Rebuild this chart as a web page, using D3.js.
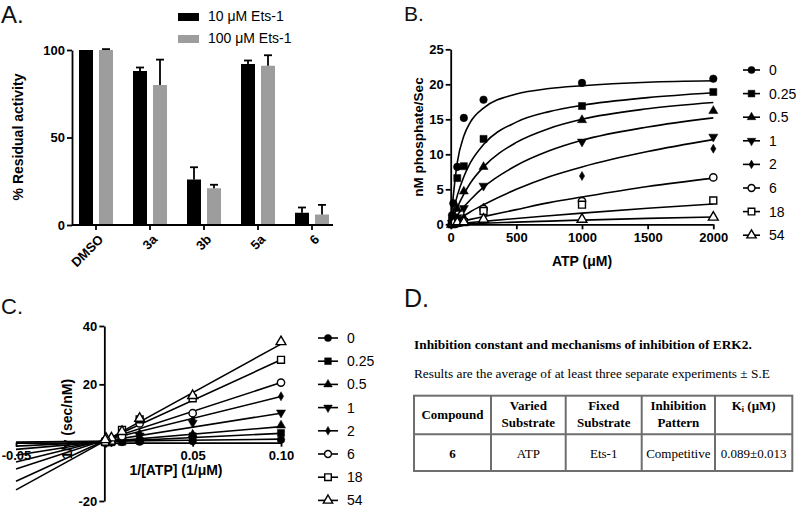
<!DOCTYPE html>
<html><head><meta charset="utf-8">
<script src="https://cdn.jsdelivr.net/npm/d3@7"></script>
<style>body{margin:0;background:#fff} svg{display:block}</style>
</head><body>
<svg id="chart" width="800" height="509"></svg>
<script>
// ---------- Panel A data ----------
const compounds = ["DMSO", "3a", "3b", "5a", "6"];
const ets10 = [100, 88, 26, 92, 7];
const ets10Err = [0, 2, 7, 2, 3];
const ets100 = [100, 80, 21, 91, 6];
const ets100Err = [0.5, 14.5, 2, 6, 5.5];
const barSeriesNames = ["10 μM Ets-1", "100 μM Ets-1"];
const yTicksA = [0, 50, 100];

// ---------- Panel B data ----------
const inhibitorConc = ["0", "0.25", "0.5", "1", "2", "6", "18", "54"];
const atpConc = [10, 20, 50, 100, 250, 1000, 2000];
const rate0   = [1.3, 3.0, 8.2, 15.2, 17.8, 20.2, 20.8];
const rate025 = [0.5, 1.0, 6.6, 8.3, 12.2, 16.9, 18.9];
const rate05  = [0.3, 0.8, 2.2, 4.7, 8.2, 14.9, 16.2];
const rate1   = [0.2, 0.5, 1.0, 2.3, 5.5, 11.8, 12.5];
const rate2   = [0.1, 0.3, 0.6, 1.0, 2.4, 6.9, 10.8];
const rate6   = [0.05, 0.2, 0.4, 0.5, 2.2, 3.3, 6.7];
const rate18  = [0.04, 0.1, 0.2, 0.3, 1.9, 2.8, 3.4];
const rate54  = [0.03, 0.1, 0.2, 0.3, 0.7, 0.7, 1.0];
const fitAtp = [0, 25, 50, 100, 150, 250, 500, 750, 1000, 1500, 2000];
const fit0   = [0, 5.0, 8.8, 12.6, 14.6, 16.6, 18.6, 19.4, 19.8, 20.3, 20.5];
const fit025 = [0, 2.3, 4.1, 6.8, 8.8, 11.4, 14.6, 16.1, 17.0, 18.1, 18.8];
const fit05  = [0, 1.3, 2.4, 4.3, 5.9, 8.2, 11.7, 13.7, 15.0, 16.5, 17.4];
const fit1   = [0, 0.7, 1.3, 2.5, 3.5, 5.3, 8.4, 10.5, 12.0, 13.9, 15.2];
const fit2   = [0, 0.3, 0.6, 1.2, 1.8, 2.8, 5.0, 6.8, 8.2, 10.4, 12.1];
const fit6   = [0, 0.1, 0.2, 0.5, 0.7, 1.1, 2.1, 3.1, 3.9, 5.4, 6.6];
const fit18  = [0, 0.04, 0.08, 0.17, 0.25, 0.42, 0.83, 1.22, 1.6, 2.3, 2.9];
const fit54  = [0, 0.02, 0.03, 0.06, 0.09, 0.16, 0.31, 0.46, 0.6, 0.85, 1.05];
const xTicksB = [0, 500, 1000, 1500, 2000];
const yTicksB = [0, 5, 10, 15, 20, 25];

// ---------- Panel C data ----------
const invAtp = [0.1, 0.05, 0.02, 0.01, 0.004, 0.001, 0.0005];
const inv0   = [1.0, 0.5, 0.3, 0.2, 0.1, 0.05, 0.05];
const inv025 = [3.3, 2.2, 0.7, 0.3, 0.15, 0.08, 0.06];
const inv05  = [5.9, 2.8, 1.0, 0.4, 0.2, 0.08, 0.06];
const inv1   = [10.3, 6.8, 2.4, 0.8, 0.3, 0.1, 0.08];
const inv2   = [15.9, 7.8, 3.2, 1.3, 0.4, 0.15, 0.1];
const inv6   = [20.6, 10.1, 6.6, 2.2, 0.6, 0.3, 0.15];
const inv18  = [28.4, 15.2, 8.0, 4.4, 0.7, 0.4, 0.3];
const inv54  = [34.6, 16.1, 8.3, 3.8, 1.6, 1.4, 1.0];
const lbFitX = [-0.05, 0.1];
const lbFitLeft  = [0.2, -1.2, -2.3, -4.3, -6.6, -9.0, -13.2, -16.2];
const lbFitRight = [1.2, 3.2, 5.5, 10.1, 15.8, 20.6, 28.4, 33.8];
const xTicksC = [-0.05, 0.05, 0.10];
const yTicksC = [-20, 20, 40];

// ---------- Panel D data ----------
const tableTitle = "Inhibition constant and mechanisms of inhibition of ERK2.";
const tableNote = "Results are the average of at least three separate experiments ± S.E";
const tableHeader = [["Compound"], ["Varied", "Substrate"], ["Fixed", "Substrate"], ["Inhibition", "Pattern"], ["Ki"]];
const tableRow = ["6", "ATP", "Ets-1", "Competitive", "0.089±0.013"];

// ---------- helpers ----------
const svg = d3.select("#chart");
const SANS = "'Liberation Sans', Arial, sans-serif";
const SERIF = "'Liberation Serif', 'Times New Roman', serif";
const symTypes = [d3.symbolCircle, d3.symbolSquare, d3.symbolTriangle, d3.symbolTriangle,
                  d3.symbolDiamond, d3.symbolCircle, d3.symbolSquare, d3.symbolTriangle];
const symSizes = [45, 50, 36, 36, 24, 42, 48, 42];
const symFilled = [true, true, true, true, true, false, false, false];
function drawMarker(g, i, x, y, k) {
  const s = k || 1;
  g.append("path")
    .attr("d", d3.symbol().type(symTypes[i]).size(symSizes[i] * s)())
    .attr("transform", `translate(${x},${y})` + (i === 3 ? " rotate(180)" : ""))
    .attr("fill", symFilled[i] ? "#000" : "#fff")
    .attr("stroke", "#000")
    .attr("stroke-width", symFilled[i] ? 0.5 : 1.4);
}
function styleAxis(g, size) {
  g.attr("font-family", SANS).attr("font-size", size || 13).attr("font-weight", "bold");
  g.selectAll("path,line").attr("stroke", "#000").attr("stroke-width", 1.8);
  g.selectAll("text").attr("fill", "#000");
}
function panelLetter(t, x, y, size) {
  svg.append("text").attr("x", x).attr("y", y).text(t)
    .attr("font-family", SANS).attr("font-size", size).attr("fill", "#111");
}

// ================= Panel A =================
{
  const g = svg.append("g");
  const y = d3.scaleLinear([0, 100], [225, 50]);
  const x = d3.scaleBand(compounds, [69, 339]);
  const bw = 14;
  const cx = c => x(c) + x.bandwidth() / 2;
  const series = [
    { vals: ets10, err: ets10Err, off: -17, color: "#000" },
    { vals: ets100, err: ets100Err, off: 3, color: "#9d9d9d" }
  ];
  series.forEach(s => {
    const bars = g.append("g");
    bars.selectAll("rect").data(compounds).join("rect")
      .attr("x", c => cx(c) + s.off).attr("width", bw)
      .attr("y", (c, i) => y(s.vals[i])).attr("height", (c, i) => y(0) - y(s.vals[i]))
      .attr("fill", s.color);
    const eb = g.append("g").attr("stroke", "#000").attr("stroke-width", 1.8);
    compounds.forEach((c, i) => {
      if (s.err[i] <= 0) return;
      const mx = cx(c) + s.off + bw / 2;
      eb.append("line").attr("x1", mx).attr("x2", mx).attr("y1", y(s.vals[i])).attr("y2", y(s.vals[i] + s.err[i]));
      eb.append("line").attr("x1", mx - 4).attr("x2", mx + 4).attr("y1", y(s.vals[i] + s.err[i])).attr("y2", y(s.vals[i] + s.err[i]));
    });
  });
  const ya = g.append("g").attr("transform", "translate(72,0)")
    .call(d3.axisLeft(y).tickValues(yTicksA).tickSize(5).tickPadding(2).tickSizeOuter(0));
  styleAxis(ya);
  const xa = g.append("g").attr("transform", `translate(0,${y(0)})`)
    .call(d3.axisBottom(x).tickSize(5).tickSizeOuter(0));
  styleAxis(xa, 13);
  xa.select(".domain").attr("d", "M72,0H333");
  xa.selectAll(".tick text").attr("text-anchor", "end").attr("y", null).attr("dy", "0.35em")
    .attr("transform", "translate(5,12) rotate(-45)");
  g.append("text").attr("transform", "translate(23,137) rotate(-90)").attr("text-anchor", "middle")
    .attr("font-family", SANS).attr("font-weight", "bold").attr("font-size", 14).text("% Residual activity");
  // legend
  barSeriesNames.forEach((n, i) => {
    g.append("rect").attr("x", 178).attr("y", 13 + i * 22).attr("width", 21).attr("height", 8)
      .attr("fill", series[i].color);
    g.append("text").attr("x", 208).attr("y", 21 + i * 22).text(n)
      .attr("font-family", SANS).attr("font-size", 14);
  });
  panelLetter("A.", 1, 23, 24);
}

// ================= Panel B =================
{
  const g = svg.append("g");
  const x = d3.scaleLinear([0, 2000], [450.7, 713.3]);
  const y = d3.scaleLinear([0, 25], [224.3, 49.3]);
  const rates = [rate0, rate025, rate05, rate1, rate2, rate6, rate18, rate54];
  const fits = [fit0, fit025, fit05, fit1, fit2, fit6, fit18, fit54];
  const line = d3.line().x(d => x(d[0])).y(d => y(d[1])).curve(d3.curveMonotoneX);
  fits.forEach(f => {
    g.append("path").attr("d", line(fitAtp.map((a, j) => [a, f[j]])))
      .attr("fill", "none").attr("stroke", "#000").attr("stroke-width", 1.6);
  });
  rates.forEach((r, i) => {
    atpConc.forEach((a, j) => drawMarker(g, i, x(a), y(r[j])));
  });
  const ya = g.append("g").attr("transform", `translate(${x(0)},0)`)
    .call(d3.axisLeft(y).tickValues(yTicksB).tickSize(5).tickPadding(2).tickSizeOuter(0));
  styleAxis(ya);
  const xa = g.append("g").attr("transform", `translate(0,${y(0)})`)
    .call(d3.axisBottom(x).tickValues(xTicksB).tickFormat(d3.format("d")).tickSize(5).tickPadding(3).tickSizeOuter(0));
  styleAxis(xa);
  g.append("text").attr("x", (x(0) + x(2000)) / 2).attr("y", 266).attr("text-anchor", "middle")
    .attr("font-family", SANS).attr("font-weight", "bold").attr("font-size", 14).text("ATP (μM)");
  g.append("text").attr("transform", "translate(423,137) rotate(-90)").attr("text-anchor", "middle")
    .attr("font-family", SANS).attr("font-weight", "bold").attr("font-size", 13.5).text("nM phosphate/Sec");
  inhibitorConc.forEach((c, i) => {
    const ly = 70 + i * 23.6;
    g.append("line").attr("x1", 743).attr("x2", 760).attr("y1", ly).attr("y2", ly)
      .attr("stroke", "#000").attr("stroke-width", 1.6);
    drawMarker(g, i, 751.5, ly, 0.9);
    g.append("text").attr("x", 769).attr("y", ly).attr("dy", "0.35em").text(c)
      .attr("font-family", SANS).attr("font-size", 14);
  });
  panelLetter("B.", 404, 21, 21);
}

// ================= Panel C =================
{
  const g = svg.append("g");
  const x = d3.scaleLinear([-0.05, 0.1], [16, 281]);
  const y = d3.scaleLinear([-20, 40], [501, 326]);
  g.append("text").attr("transform", "translate(72,419) rotate(-90)").attr("text-anchor", "middle")
    .attr("font-family", SANS).attr("font-weight", "bold").attr("font-size", 14).text("1/v (sec/nM)");
  const invs = [inv0, inv025, inv05, inv1, inv2, inv6, inv18, inv54];
  const ya = g.append("g").attr("transform", `translate(${x(0)},0)`)
    .call(d3.axisLeft(y).tickValues(yTicksC).tickFormat(d => String(d)).tickSize(5).tickPadding(2).tickSizeOuter(0));
  styleAxis(ya);
  const xa = g.append("g").attr("transform", `translate(0,${y(0)})`)
    .call(d3.axisBottom(x).tickValues(xTicksC).tickFormat(d => d.toFixed(2)).tickSize(4).tickPadding(4).tickSizeOuter(0));
  styleAxis(xa);
  const line = d3.line().x(d => x(d[0])).y(d => y(d[1]));
  lbFitLeft.forEach((l, i) => {
    g.append("path").attr("d", line([[lbFitX[0], l], [lbFitX[1], lbFitRight[i]]]))
      .attr("fill", "none").attr("stroke", "#000").attr("stroke-width", 1.6);
  });
  invs.forEach((r, i) => {
    invAtp.forEach((a, j) => drawMarker(g, i, x(a), y(r[j])));
  });
  g.append("text").attr("x", 176).attr("y", 475).attr("text-anchor", "middle")
    .attr("font-family", SANS).attr("font-weight", "bold").attr("font-size", 14).text("1/[ATP] (1/μM)");
  inhibitorConc.forEach((c, i) => {
    const ly = 338 + i * 23.2;
    g.append("line").attr("x1", 318).attr("x2", 338).attr("y1", ly).attr("y2", ly)
      .attr("stroke", "#000").attr("stroke-width", 1.6);
    drawMarker(g, i, 328, ly, 0.9);
    g.append("text").attr("x", 347).attr("y", ly).attr("dy", "0.35em").text(c)
      .attr("font-family", SANS).attr("font-size", 14);
  });
  panelLetter("C.", 1, 314, 22);
}

// ================= Panel D =================
{
  const g = svg.append("g");
  panelLetter("D.", 404, 307, 25);
  g.append("text").attr("x", 414).attr("y", 349).text(tableTitle)
    .attr("font-family", SERIF).attr("font-weight", "bold").attr("font-size", 13.4);
  g.append("text").attr("x", 414).attr("y", 378).text(tableNote)
    .attr("font-family", SERIF).attr("font-size", 13.3);
  const colEdges = [414, 491, 565.7, 641.7, 715, 792.3];
  const top = 395.7, mid = 434.3, bot = 471;
  const border = g.append("g").attr("stroke", "#6e6e6e").attr("stroke-width", 2).attr("fill", "none");
  border.append("rect").attr("x", colEdges[0]).attr("y", top).attr("width", colEdges[5] - colEdges[0]).attr("height", bot - top);
  border.append("line").attr("x1", colEdges[0]).attr("x2", colEdges[5]).attr("y1", mid).attr("y2", mid);
  colEdges.slice(1, 5).forEach(cx => border.append("line").attr("x1", cx).attr("x2", cx).attr("y1", top).attr("y2", bot));
  tableHeader.forEach((lines, i) => {
    const cx = (colEdges[i] + colEdges[i + 1]) / 2;
    const t = g.append("text").attr("text-anchor", "middle").attr("font-family", SERIF)
      .attr("font-weight", "bold").attr("font-size", 13);
    if (i === 4) {
      t.attr("x", cx).attr("y", 409.5);
      t.append("tspan").text("K");
      t.append("tspan").attr("font-size", 8).attr("dy", 2).text("i");
      t.append("tspan").attr("dy", -2).text(" (μM)");
    } else if (lines.length === 1) {
      t.attr("x", cx).attr("y", 418.5).text(lines[0]);
    } else {
      lines.forEach((l, k) => t.append("tspan").attr("x", cx).attr("y", 409.5 + k * 17).text(l));
    }
  });
  tableRow.forEach((v, i) => {
    const cx = (colEdges[i] + colEdges[i + 1]) / 2;
    g.append("text").attr("x", cx).attr("y", 458).attr("text-anchor", "middle")
      .attr("font-family", SERIF).attr("font-size", 13).attr("font-weight", i === 0 ? "bold" : "normal")
      .text(v);
  });
}
</script>
</body></html>
